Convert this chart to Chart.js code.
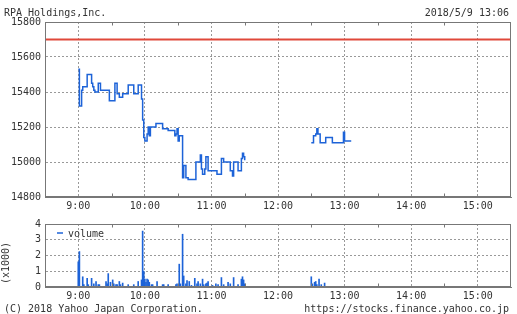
<!DOCTYPE html>
<html>
<head>
<meta charset="utf-8">
<script src="https://cdn.jsdelivr.net/npm/chart.js@4.4.1/dist/chart.umd.min.js"></script>
<style>
  body { margin: 0; background: #fff; }
  #wrap { position: relative; width: 517px; height: 314px; font-family: "DejaVu Sans Mono", monospace; font-size: 10px; color: #333; }
  .txt { position: absolute; white-space: nowrap; line-height: 12px; }
  canvas { position: absolute; left: 0; }
</style>
</head>
<body>
<div id="wrap">
  <canvas id="priceChart" width="517" height="214" style="top:0"></canvas>
  <canvas id="volumeChart" width="517" height="100" style="top:214px"></canvas>
  <div class="txt" style="left:4px; top:7px;">RPA Holdings,Inc.</div>
  <div class="txt" style="right:8px; top:7px;">2018/5/9 13:06</div>
  <div class="txt" style="left:-16px; top:257px; width:44px; text-align:center; transform:rotate(-90deg);">(x1000)</div>
  <div class="txt" style="left:4px; top:303px;">(C) 2018 Yahoo Japan Corporation.</div>
  <div class="txt" style="right:8px; top:303px;">https://stocks.finance.yahoo.co.jp</div>
</div>
<script>
// minutes counted from 9:00
const hourTicks = [0, 60, 120, 180, 240, 300, 360];
const hourLabels = ["9:00", "10:00", "11:00", "12:00", "13:00", "14:00", "15:00"];
const halfHourTicks = [30, 90, 150, 210, 270, 330];

const prevClose = 15700;

const priceMinutes = [0, 1, 3, 4, 8, 12, 13, 14, 15, 18, 20, 28, 33, 35, 37, 40, 45, 50, 54, 57,
  58, 59, 60, 62, 63, 64, 65, 70, 76, 81, 87, 88, 89, 90, 91, 94, 95, 97, 99, 106,
  110, 111, 112, 114, 115, 117, 125, 129, 131, 137, 139, 140, 144, 147, 148, 149, 150, 180, 210, 212,
  214, 215, 216, 218, 223, 229, 239, 240, 246];
const priceValues = [15530, 15320, 15410, 15430, 15500, 15450, 15430, 15410, 15400, 15450, 15410, 15350, 15450, 15390, 15370, 15390, 15440, 15390, 15440, 15360,
  15240, 15140, 15120, 15160, 15200, 15150, 15200, 15220, 15190, 15180, 15150, 15160, 15190, 15120, 15150, 14910, 14980, 14910, 14900, 15000,
  15040, 14960, 14930, 14960, 15030, 14950, 14930, 15020, 15000, 14950, 14920, 15000, 14950, 15020, 15050, 15030, 15010, null, 15110, 15150,
  15160, 15190, 15160, 15110, 15140, 15110, 15170, 15120, 15120];

const volMinutes = [0, 1, 4, 5, 8, 9, 12, 14, 16, 18, 19, 25, 26, 27, 29, 31, 32, 34, 35, 37,
  38, 40, 45, 50, 54, 57, 58, 59, 60, 61, 62, 63, 64, 66, 67, 71, 76, 77, 81, 88,
  89, 91, 92, 94, 95, 97, 98, 100, 102, 105, 107, 108, 110, 112, 113, 115, 116, 117, 121, 124,
  126, 129, 131, 135, 137, 140, 144, 147, 148, 149, 150, 210, 211, 213, 214, 215, 217, 219, 222];
const volValues = [1.6, 2.25, 0.65, 0.15, 0.55, 0.15, 0.55, 0.2, 0.35, 0.15, 0.15, 0.35, 0.2, 0.85, 0.3, 0.45, 0.2, 0.15, 0.15, 0.35,
  0.15, 0.25, 0.15, 0.15, 0.35, 0.45, 3.55, 1.0, 0.5, 0.3, 0.5, 0.45, 0.3, 0.15, 0.15, 0.35, 0.15, 0.15, 0.15, 0.15,
  0.2, 1.45, 0.2, 3.35, 0.7, 0.2, 0.4, 0.35, 0.1, 0.55, 0.2, 0.35, 0.2, 0.5, 0.15, 0.2, 0.25, 0.35, 0.1, 0.2,
  0.15, 0.6, 0.15, 0.3, 0.2, 0.6, 0.15, 0.5, 0.65, 0.45, 0.2, 0.65, 0.2, 0.3, 0.35, 0.15, 0.5, 0.15, 0.25];

const BLUE = "#1d63d8";
const FONT = { family: "DejaVu Sans Mono", size: 10 };

// plot frame + little half-hour ticks on top and bottom edges
const frame = {
  id: "frame",
  afterDraw(chart) {
    const { ctx, chartArea: a, scales } = chart;
    ctx.save();
    ctx.strokeStyle = "#777";
    ctx.lineWidth = 1;
    const l = Math.round(a.left) + 0.5, t = Math.round(a.top) + 0.5;
    const r = Math.round(a.right) - 0.5, b = Math.round(a.bottom) - 0.5;
    ctx.strokeRect(l, t, r - l, b - t);
    ctx.beginPath();
    halfHourTicks.forEach(v => {
      const px = Math.round(scales.x.getPixelForValue(v)) + 0.5;
      ctx.moveTo(px, t); ctx.lineTo(px, t + 3);
      ctx.moveTo(px, b); ctx.lineTo(px, b - 3);
    });
    ctx.stroke();
    ctx.restore();
  }
};

const volumeLegend = {
  id: "volumeLegend",
  afterDraw(chart) {
    const { ctx, chartArea: a } = chart;
    const ds = chart.data.datasets[0];
    ctx.save();
    ctx.strokeStyle = ds.backgroundColor;
    ctx.lineWidth = 1.5;
    ctx.beginPath();
    ctx.moveTo(a.left + 12, a.top + 9);
    ctx.lineTo(a.left + 18, a.top + 9);
    ctx.stroke();
    ctx.fillStyle = "#333";
    ctx.font = "10px 'DejaVu Sans Mono'";
    ctx.textBaseline = "alphabetic";
    ctx.fillText(ds.label, a.left + 23, a.top + 13);
    ctx.restore();
  }
};

function xScale(height) {
  return {
    type: "linear",
    min: -30,
    max: 390,
    offset: false,
    afterBuildTicks: s => { s.ticks = hourTicks.map(v => ({ value: v })); },
    afterFit: s => { s.height = height; },
    ticks: {
      font: FONT,
      color: "#333",
      padding: 3,
      maxRotation: 0,
      autoSkip: false,
      callback: v => hourLabels[hourTicks.indexOf(v)]
    },
    grid: { color: "#999", drawTicks: false, offset: false },
    border: { color: "#777", dash: [2, 2] }
  };
}

function yScale(min, max, step) {
  return {
    min: min,
    max: max,
    afterFit: s => { s.width = 45; },
    ticks: { stepSize: step, font: FONT, color: "#333", padding: 4, callback: v => String(v) },
    grid: { color: "#999", drawTicks: false },
    border: { color: "#777", dash: [2, 2] }
  };
}

new Chart(document.getElementById("priceChart"), {
  type: "line",
  data: {
    datasets: [
      {
        label: "price",
        data: priceMinutes.map((m, i) => ({ x: m, y: priceValues[i] })),
        borderColor: BLUE,
        borderWidth: 1.5,
        stepped: true,
        pointRadius: 0,
        spanGaps: false
      },
      {
        label: "prev",
        data: [{ x: -30, y: prevClose }, { x: 390, y: prevClose }],
        borderColor: "#e0483a",
        borderWidth: 2,
        pointRadius: 0
      }
    ]
  },
  options: {
    responsive: false,
    animation: false,
    layout: { padding: { top: 22, right: 6, left: 0, bottom: 0 } },
    scales: { x: xScale(17), y: yScale(14800, 15800, 200) },
    plugins: { legend: { display: false }, tooltip: { enabled: false } }
  },
  plugins: [frame]
});

new Chart(document.getElementById("volumeChart"), {
  type: "bar",
  data: {
    datasets: [
      {
        label: "volume",
        data: volMinutes.map((m, i) => ({ x: m, y: volValues[i] })),
        backgroundColor: BLUE,
        barThickness: 1
      }
    ]
  },
  options: {
    responsive: false,
    animation: false,
    layout: { padding: { top: 8, right: 6, left: 0, bottom: 0 } },
    scales: { x: xScale(27), y: yScale(0, 4, 1) },
    plugins: { legend: { display: false }, tooltip: { enabled: false } }
  },
  plugins: [frame, volumeLegend]
});
</script>
</body>
</html>
